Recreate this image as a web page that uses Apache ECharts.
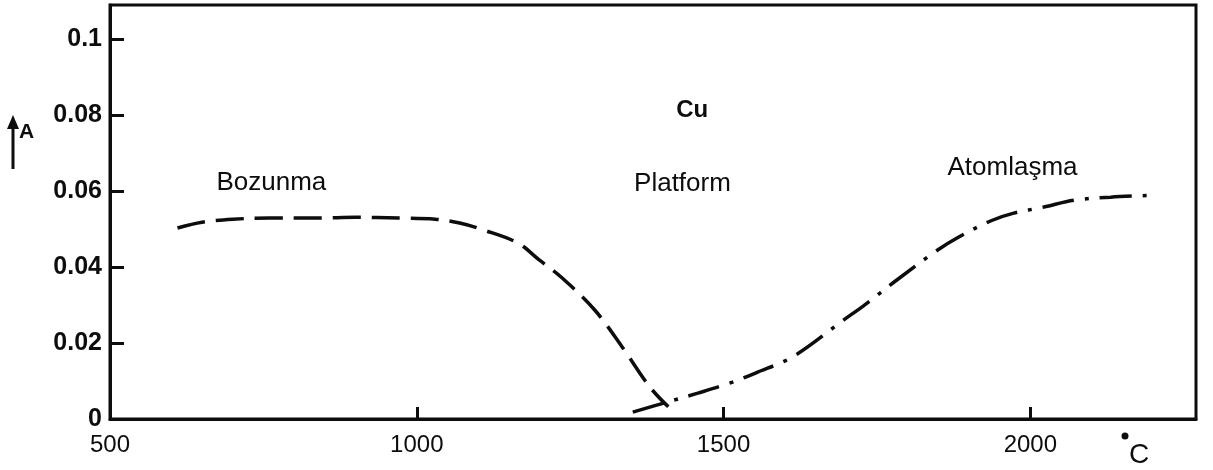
<!DOCTYPE html>
<html>
<head>
<meta charset="utf-8">
<style>
  html, body { margin: 0; padding: 0; background: #ffffff; }
  #chart { width: 1213px; height: 470px; }
</style>
<script src="https://cdn.jsdelivr.net/npm/echarts@6/dist/echarts.min.js"></script>
</head>
<body>
<div id="chart"></div>
<script>
// Cu absorbance (A) against temperature (°C)
const xTickValues = [500, 1000, 1500, 2000];
const xTickMarks = [1000, 1500, 2000];
const yTickValues = [0, 0.02, 0.04, 0.06, 0.08, 0.1];
const yTickLabels = ['0', '0.02', '0.04', '0.06', '0.08', '0.1'];
const yTickMarks = [0.02, 0.04, 0.06, 0.08, 0.1];

// Decomposition curve (dashed)
const bozunmaTemp = [610, 650, 700, 760, 840, 900, 970, 1030, 1070, 1110, 1165, 1200, 1235, 1290, 1335, 1380, 1410];
const bozunmaAbs  = [0.0503, 0.0518, 0.0526, 0.0529, 0.0529, 0.0531, 0.0529, 0.0526, 0.0516, 0.0497, 0.0463, 0.0418, 0.0374, 0.0287, 0.0189, 0.0084, 0.0032];

// Atomization curve (dash-dot)
const atomTemp = [1352, 1409, 1458, 1511, 1552, 1614, 1696, 1728, 1784, 1849, 1882, 1936, 1973, 2022, 2071, 2131, 2197];
const atomAbs  = [0.0018, 0.0045, 0.0068, 0.0095, 0.0121, 0.0165, 0.0261, 0.0298, 0.0368, 0.0445, 0.0478, 0.0522, 0.0542, 0.0558, 0.0576, 0.0584, 0.0589];

// Text placed in the plot, at data coordinates
const noteNames = ['Bozunma', 'Cu', 'Platform', 'Atomlaşma'];
const noteTemp  = [763, 1449, 1433, 1971];
const noteAbs   = [0.0621, 0.0813, 0.0618, 0.0660];

const ink = '#0d0d0d';
const textFont = "'Liberation Sans', sans-serif";

const chart = echarts.init(document.getElementById('chart'), null, { renderer: 'canvas' });

const zip = (a, b) => a.map((v, i) => [v, b[i]]);

chart.setOption({
  animation: false,
  backgroundColor: '#ffffff',
  grid: {
    left: 110, right: 17, top: 5, bottom: 51,
    show: true, borderColor: ink, borderWidth: 3, backgroundColor: 'transparent'
  },
  xAxis: {
    type: 'value', min: 500, max: 2270,
    splitLine: { show: false },
    axisLine: { lineStyle: { color: ink, width: 3 } },
    axisTick: { show: true, inside: true, length: 12, customValues: xTickMarks, lineStyle: { color: ink, width: 3 } },
    axisLabel: {
      customValues: xTickValues, margin: 14, color: ink,
      fontFamily: textFont, fontSize: 24,
      formatter: v => String(v)
    }
  },
  yAxis: {
    type: 'value', min: 0, max: 0.109,
    splitLine: { show: false },
    axisLine: { lineStyle: { color: ink, width: 3 } },
    axisTick: { show: true, inside: true, length: 14, customValues: yTickMarks, lineStyle: { color: ink, width: 3 } },
    axisLabel: {
      customValues: yTickValues, margin: 8, color: ink,
      fontFamily: textFont, fontSize: 25, fontWeight: 'bold',
      verticalAlign: 'middle', padding: [0, 0, 14, 0],
      formatter: v => yTickLabels[yTickValues.findIndex(t => Math.abs(t - v) < 1e-9)]
    }
  },
  series: [
    {
      name: 'Bozunma', type: 'line', data: zip(bozunmaTemp, bozunmaAbs),
      smooth: 0.35, symbol: 'none',
      lineStyle: { color: ink, width: 3.5, type: [28, 11], cap: 'butt' }
    },
    {
      name: 'Atomlaşma', type: 'line', data: zip(atomTemp, atomAbs),
      smooth: 0.35, symbol: 'none',
      lineStyle: { color: ink, width: 3.5, type: [32, 11, 4, 11], cap: 'butt' }
    },
    {
      name: 'notes', type: 'scatter', symbolSize: 0, silent: true,
      itemStyle: { opacity: 1 },
      data: noteNames.map((n, i) => ({
        name: n, value: [noteTemp[i], noteAbs[i]],
        label: n === 'Cu' ? { fontWeight: 'bold', fontSize: 24 } : undefined
      })),
      label: {
        show: true, position: 'inside', color: ink,
        fontFamily: textFont, fontSize: 26,
        formatter: p => p.name
      },
      labelLayout: { hideOverlap: false }
    }
  ],
  graphic: [
    // axis name: upward arrow with "A"
    { type: 'line', shape: { x1: 13, y1: 169, x2: 13, y2: 126 }, style: { stroke: ink, lineWidth: 3 } },
    { type: 'polygon', shape: { points: [[7, 129], [19, 129], [13, 115]] }, style: { fill: ink } },
    { type: 'text', left: 19, top: 122, style: { text: 'A', fill: ink, font: "bold 21px 'Liberation Sans', sans-serif" } },
    // temperature unit: degree dot and C
    { type: 'circle', shape: { cx: 1125, cy: 436, r: 3.5 }, style: { fill: ink } },
    { type: 'text', left: 1129, top: 441, style: { text: 'C', fill: ink, font: "28px 'Liberation Sans', sans-serif" } }
  ]
});
</script>
</body>
</html>
